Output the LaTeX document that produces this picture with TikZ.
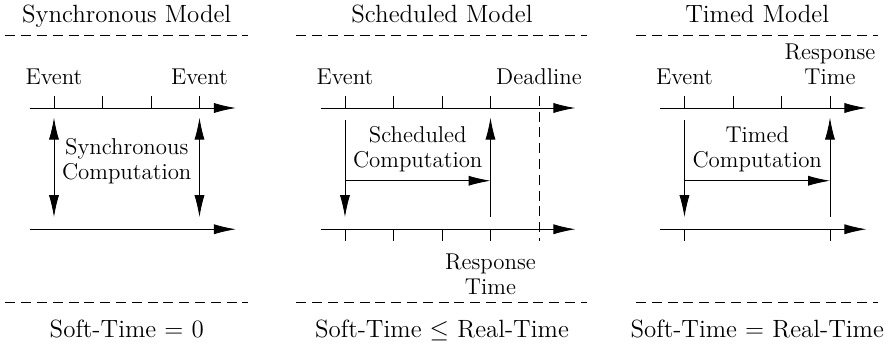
\documentclass[tikz,border=0pt]{standalone}
\usepackage{amsmath}
\usepackage{amssymb}
\usetikzlibrary{arrows.meta}

\begin{document}
\begin{tikzpicture}[x=0.82cm,y=0.82cm,>={Latex[length=3.7mm,width=1.7mm]},
  font=\fontsize{11pt}{12pt}\selectfont,
  sep/.style={dash pattern=on 4.8pt off 2.8pt}]
\useasboundingbox (-1.113,-4.928) rectangle (17.217,2.227);

% headings and rules
\node[anchor=base] (synctitle) at (1.5,1.77) {\large Synchronous Model};
\node[anchor=base] (schedtitle) at (8,1.77) {\large Scheduled Model};
\node[anchor=base] (timedtitle) at (14.5,1.77) {\large Timed Model};
\draw[sep] (-1,1.5) -- (4,1.5);
\draw[sep] (5,1.5) -- (11,1.5);
\draw[sep] (12,1.5) -- (17,1.5);
\draw[sep] (-1,-4) -- (4,-4);
\draw[sep] (5,-4) -- (11,-4);
\draw[sep] (12,-4) -- (17,-4);
\node[anchor=base] (syncrel) at (1.5,-4.73) {\large Soft-Time $=$ 0};
\node[anchor=base] (schedrel) at (8,-4.73) {\large Soft-Time $\leq$ Real-Time};
\node[anchor=base] (timedrel) at (14.5,-4.73) {\large Soft-Time $=$ Real-Time};

% synchronous
\draw[->] (-0.5,0) -- (3.75,0);
\draw[->] (-0.5,-2.5) -- (3.75,-2.5);
\draw (0,0) -- (0,0.25) (1,0) -- (1,0.25) (2,0) -- (2,0.25) (3,0) -- (3,0.25);
\node[anchor=south] (syncev1) at (0,0.33) {Event};
\node[anchor=south] (syncev2) at (3,0.33) {Event};
\coordinate (sync1top) at (0,-0.2);
\coordinate (sync1bot) at (0,-2.25);
\coordinate (sync2top) at (3,-0.2);
\coordinate (sync2bot) at (3,-2.25);
\draw[<->] (sync1top) -- (sync1bot);
\draw[<->] (sync2top) -- (sync2bot);
\node[align=center] (synccomp) at (1.5,-1.1) {Synchronous\\Computation};

% scheduled
\draw[->] (5.5,0) -- (10.75,0);
\draw[->] (5.5,-2.5) -- (10.75,-2.5);
\draw (6,0) -- (6,0.25) (7,0) -- (7,0.25) (8,0) -- (8,0.25) (9,0) -- (9,0.25);
\draw (6,-2.5) -- (6,-2.75) (7,-2.5) -- (7,-2.75) (8,-2.5) -- (8,-2.75) (9,-2.5) -- (9,-2.75);
\draw[sep] (10,0.25) -- (10,-2.75);
\node[anchor=south] (schedev) at (6,0.33) {Event};
\node[anchor=south] (scheddl) at (10,0.33) {Deadline};
\node[anchor=north,align=center] (schedresp) at (9,-2.86) {Response\\Time};
\coordinate (schedstart) at (6,-0.25);
\coordinate (schedend) at (6,-2.25);
\coordinate (schedfrom) at (6,-1.5);
\coordinate (schedto) at (9,-1.5);
\coordinate (schedlow) at (9,-2.25);
\coordinate (schedhigh) at (9,-0.2);
\draw[->] (schedstart) -- (schedend);
\draw[->] (schedfrom) -- (schedto);
\draw[->] (schedlow) -- (schedhigh);
\node[align=center] (schedcomp) at (7.5,-0.85) {Scheduled\\Computation};

% timed
\draw[->] (12.5,0) -- (16.75,0);
\draw[->] (12.5,-2.5) -- (16.75,-2.5);
\draw (13,0) -- (13,0.25) (14,0) -- (14,0.25) (15,0) -- (15,0.25) (16,0) -- (16,0.25);
\draw (13,-2.5) -- (13,-2.75) (16,-2.5) -- (16,-2.75);
\node[anchor=south] (timedev) at (13,0.33) {Event};
\node[anchor=south,align=center] (timedresp) at (16,0.33) {Response\\Time};
\coordinate (timedstart) at (13,-0.25);
\coordinate (timedend) at (13,-2.25);
\coordinate (timedfrom) at (13,-1.5);
\coordinate (timedto) at (16,-1.5);
\coordinate (timedlow) at (16,-2.25);
\coordinate (timedhigh) at (16,-0.2);
\draw[->] (timedstart) -- (timedend);
\draw[->] (timedfrom) -- (timedto);
\draw[->] (timedlow) -- (timedhigh);
\node[align=center] (timedcomp) at (14.5,-0.85) {Timed\\Computation};
\end{tikzpicture}
\end{document}
